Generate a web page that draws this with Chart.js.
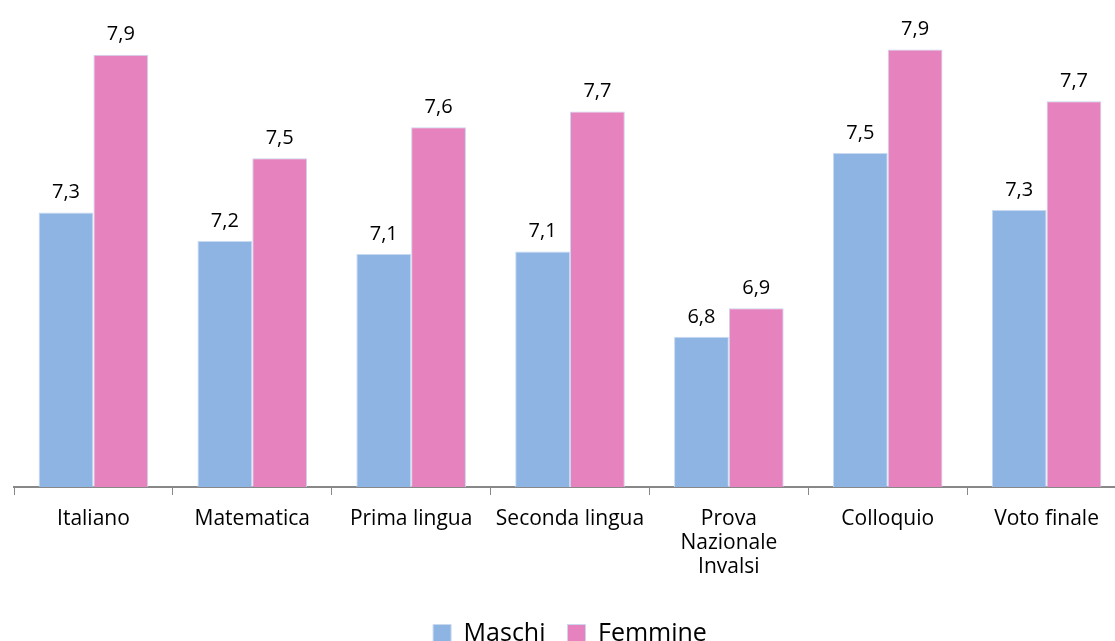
<!DOCTYPE html>
<html>
<head>
  <meta charset="UTF-8">
  <title>Voti medi per materia</title>
  <script src="https://cdn.jsdelivr.net/npm/chart.js"></script>
  <style>
    html, body { margin: 0; padding: 0; background: #fff; overflow: hidden; }
    #wrap { position: relative; width: 1130px; height: 656px; }
  </style>
</head>
<body>

<div id="wrap"><canvas id="chart"></canvas></div>

<script>
  const categories = ['Italiano', 'Matematica', 'Prima lingua', 'Seconda lingua',
                      ['Prova', 'Nazionale', 'Invalsi'], 'Colloquio', 'Voto finale'];
  const maschi  = [7.26, 7.15, 7.10, 7.11, 6.78, 7.49, 7.27];
  const femmine = [7.87, 7.47, 7.59, 7.65, 6.89, 7.89, 7.69];

  const font = "'Open Sans', 'Noto Sans', sans-serif";

  // etichette dei valori sopra le barre, con la virgola decimale
  const valueLabels = {
    id: 'valueLabels',
    afterDatasetsDraw(chart) {
      const ctx = chart.ctx;
      ctx.save();
      ctx.font = '20px ' + font;
      ctx.fillStyle = '#000';
      ctx.textAlign = 'center';
      ctx.textBaseline = 'bottom';
      chart.data.datasets.forEach((ds, i) => {
        chart.getDatasetMeta(i).data.forEach((bar, j) => {
          const txt = ds.data[j].toFixed(1).replace('.', ',');
          ctx.fillText(txt, bar.x, bar.y - 10);
        });
      });
      ctx.restore();
    }
  };

  new Chart(document.getElementById('chart'), {
    type: 'bar',
    data: {
      labels: categories,
      datasets: [
        { label: 'Maschi', data: maschi, backgroundColor: '#8EB4E3',
          borderColor: '#C9DAF0', borderWidth: 1 },
        { label: 'Femmine', data: femmine, backgroundColor: '#E682BE',
          borderColor: '#C9D6EE', borderWidth: 1 }
      ]
    },
    options: {
      responsive: true,
      maintainAspectRatio: false,
      animation: false,
      layout: { padding: { left: 14, right: 4, top: 21, bottom: 0 } },
      datasets: { bar: { categoryPercentage: 0.69, barPercentage: 1.0 } },
      plugins: {
        tooltip: { enabled: false },
        legend: {
          position: 'bottom',
          labels: {
            font: { family: font, size: 25 },
            color: '#000',
            boxWidth: 18,
            boxHeight: 18,
            padding: 22
          }
        }
      },
      scales: {
        x: {
          grid: { display: true, drawOnChartArea: false, drawTicks: true,
                  tickLength: 8, color: '#888', offset: true },
          border: { color: '#888', width: 2 },
          ticks: { color: '#000', font: { family: font, size: 21, lineHeight: 1.14 },
                   maxRotation: 0, autoSkip: false, padding: 12 },
          afterFit(scale) { scale.height = 112; }
        },
        y: {
          display: false,
          min: 6.2,
          max: 8.0
        }
      }
    },
    plugins: [valueLabels]
  });
</script>

</body>
</html>
